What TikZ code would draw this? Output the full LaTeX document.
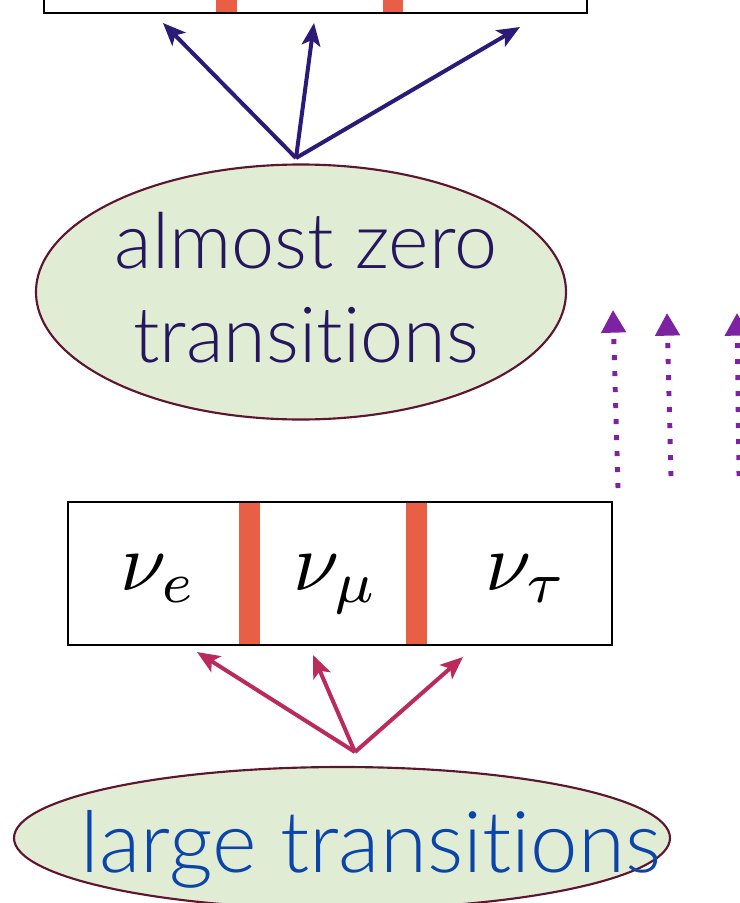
\documentclass[tikz,border=0pt]{standalone}
\usepackage{graphicx}
\usepackage{fontspec}
\setmainfont{Lato}[UprightFont={* Light},Ligatures=NoCommon]
\usetikzlibrary{arrows.meta,shapes.geometric}
\definecolor{ellfill}{HTML}{E1ECD4}
\definecolor{elldraw}{HTML}{5E1530}
\definecolor{navytext}{HTML}{23175E}
\definecolor{bluearrow}{HTML}{2B1A78}
\definecolor{barorange}{HTML}{E85F45}
\definecolor{pinkarrow}{HTML}{BA2B5C}
\definecolor{purplearrow}{HTML}{7C22A3}
\definecolor{bluetext}{HTML}{0B45AA}
\begin{document}
\begin{tikzpicture}[x=0.75pt,y=-0.75pt,
  bubble/.style={ellipse,draw=elldraw,fill=ellfill,line width=1.6pt,inner sep=0pt},
  flavbox/.style={draw=black,line width=1.5pt},
  bar/.style={fill=barorange},
  flav/.style={anchor=base},
  solidarrow/.style={line width=3pt,-{Stealth[length=17pt,width=14pt,inset=4pt]}},
  dotarrow/.style={purplearrow,line width=3.7pt,dash pattern=on 3.7pt off 8.3pt,-{Triangle[length=17pt,width=18pt]}}
]
\useasboundingbox (0,0) rectangle (739,903);
% top box (partly visible)
\fill[bar] (216,-30) rectangle (237,13);
\fill[bar] (383,-30) rectangle (403,13);
\draw[flavbox] (44,-30) rectangle (587,13);
\coordinate (t1) at (163,23);
\coordinate (t2) at (314,23);
\coordinate (t3) at (520,27);
% top ellipse
\node[bubble,minimum width=530pt*0.75,minimum height=255pt*0.75] (az) at (301,292) {};
\node[anchor=base,text=navytext,font=\fontsize{58}{60}\selectfont] (azl1) at (306,268) {almost zero};
\node[anchor=base,text=navytext,font=\fontsize{58}{60}\selectfont] (azl2) at (306,362) {transitions};
\coordinate (azsrc) at (296,158);
\draw[solidarrow,bluearrow] (azsrc) -- (t1);
\draw[solidarrow,bluearrow] (azsrc) -- (t2);
\draw[solidarrow,bluearrow] (azsrc) -- (t3);
% dotted arrows
\coordinate (d1s) at (618,488); \coordinate (d1e) at (613,310);
\coordinate (d2s) at (671,476); \coordinate (d2e) at (667,313);
\coordinate (d3s) at (739,476); \coordinate (d3e) at (737,313);
\draw[dotarrow] (d1s) -- (d1e);
\draw[dotarrow] (d2s) -- (d2e);
\draw[dotarrow] (d3s) -- (d3e);
% middle box
\fill[bar] (239,502) rectangle (260,645);
\fill[bar] (406,502) rectangle (427,645);
\draw[flavbox] (68,502) rectangle (612,645);
\node[flav] (nue) at (159,590) {\scalebox{6.2}{$\nu_e$}};
\node[flav] (numu) at (336,590) {\scalebox{6.2}{$\nu_\mu$}};
\node[flav] (nutau) at (527,590) {\scalebox{6.2}{$\nu_\tau$}};
\coordinate (m1) at (197,652);
\coordinate (m2) at (313,655);
\coordinate (m3) at (463,657);
\coordinate (ltsrc) at (355,752);
\draw[solidarrow,pinkarrow] (ltsrc) -- (m1);
\draw[solidarrow,pinkarrow] (ltsrc) -- (m2);
\draw[solidarrow,pinkarrow] (ltsrc) -- (m3);
% bottom ellipse
\node[bubble,minimum width=656pt*0.75,minimum height=142pt*0.75] (lt) at (342,838) {};
\node[anchor=base,text=bluetext,font=\fontsize{64}{66}\selectfont] (ltl) at (371,872) {large transitions};
\end{tikzpicture}
\end{document}
